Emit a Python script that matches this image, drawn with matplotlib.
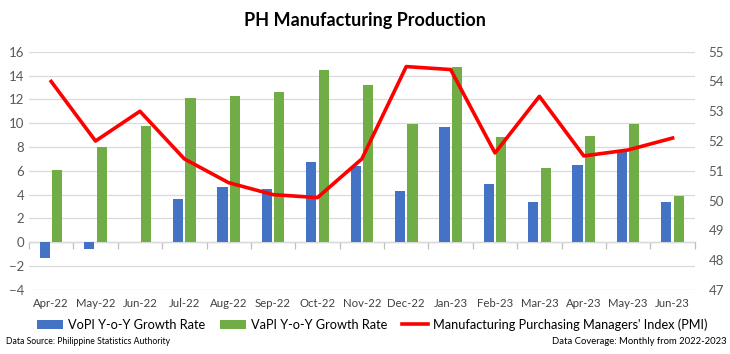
import matplotlib.pyplot as plt
import numpy as np

plt.rcParams['font.family'] = ['Lato', 'DejaVu Sans']

meses = ['Apr-22', 'May-22', 'Jun-22', 'Jul-22', 'Aug-22', 'Sep-22', 'Oct-22', 'Nov-22',
         'Dec-22', 'Jan-23', 'Feb-23', 'Mar-23', 'Apr-23', 'May-23', 'Jun-23']
vopi = [-1.3, -0.6, 0.0, 3.6, 4.6, 4.5, 6.7, 6.4, 4.3, 9.7, 4.9, 3.4, 6.5, 7.6, 3.4]
vapi = [6.1, 8.0, 9.8, 12.1, 12.3, 12.6, 14.5, 13.2, 9.9, 14.7, 8.8, 6.2, 8.9, 9.9, 3.9]
pmi = [54.0, 52.0, 53.0, 51.4, 50.6, 50.2, 50.1, 51.4, 54.5, 54.4, 51.6, 53.5, 51.5, 51.7, 52.1]

izq_min, izq_max = -4, 16
der_min, der_max = 47, 55

x = np.arange(len(meses))
ancho = 0.23

fig = plt.figure(figsize=(7.3, 3.54), dpi=100)
ax = fig.add_axes([0.0397, 0.181, 0.912, 0.673])
ax2 = ax.twinx()

ax.set_axisbelow(True)
ax.grid(axis='y', color='#d9d9d9', linewidth=0.9)
ax.bar(x - 0.14, vopi, ancho, color='#4472c4', label='VoPI Y-o-Y Growth Rate', zorder=2)
ax.bar(x + 0.14, vapi, ancho, color='#70ad47', label='VaPI Y-o-Y Growth Rate', zorder=2)
ax2.plot(x, pmi, color='#ff0000', linewidth=2.6,
         label="Manufacturing Purchasing Managers' Index (PMI)", zorder=3)

ax.set_xlim(-0.5, len(meses) - 0.5)
ax.set_ylim(izq_min, izq_max)
ax.set_yticks(range(izq_min, izq_max + 1, 2))
ax2.set_ylim(der_min, der_max)
ax2.set_yticks(range(der_min, der_max + 1))

ax.set_xticks(x, meses)
ax.tick_params(axis='x', length=0, labelsize=8.2, labelcolor='#404040', pad=6)
ax.tick_params(axis='y', length=0, labelsize=9.5, labelcolor='#595959')
ax2.tick_params(axis='y', length=0, labelsize=9.5, labelcolor='#595959', pad=10)

for a in (ax, ax2):
    for s in a.spines.values():
        s.set_visible(False)

# eje horizontal en cero con marcas entre categorías
cero = (0 - izq_min) / (izq_max - izq_min)
eje0 = ax.secondary_xaxis(cero)
eje0.set_xticks(np.arange(-0.5, len(meses)), labels=[])
eje0.tick_params(length=5, color='#bfbfbf', width=0.9)
eje0.spines['bottom'].set_color('#bfbfbf')
eje0.spines['bottom'].set_linewidth(0.9)

fig.suptitle('PH Manufacturing Production', y=0.965, fontsize=13, fontweight='bold')

h1, l1 = ax.get_legend_handles_labels()
h2, l2 = ax2.get_legend_handles_labels()
fig.legend(h1 + h2, l1 + l2, loc='center', bbox_to_anchor=(0.51, 0.083), ncol=3,
           frameon=False, fontsize=9.2, handlelength=2.0, handleheight=0.7,
           columnspacing=1.2, handletextpad=0.4)

fig.text(0.008, 0.035, 'Data Source: Philippine Statistics Authority', fontsize=6.2, va='center')
fig.text(0.995, 0.035, 'Data Coverage: Monthly from 2022-2023', fontsize=6.8, va='center', ha='right')

fig.savefig('out.png', dpi=100)
